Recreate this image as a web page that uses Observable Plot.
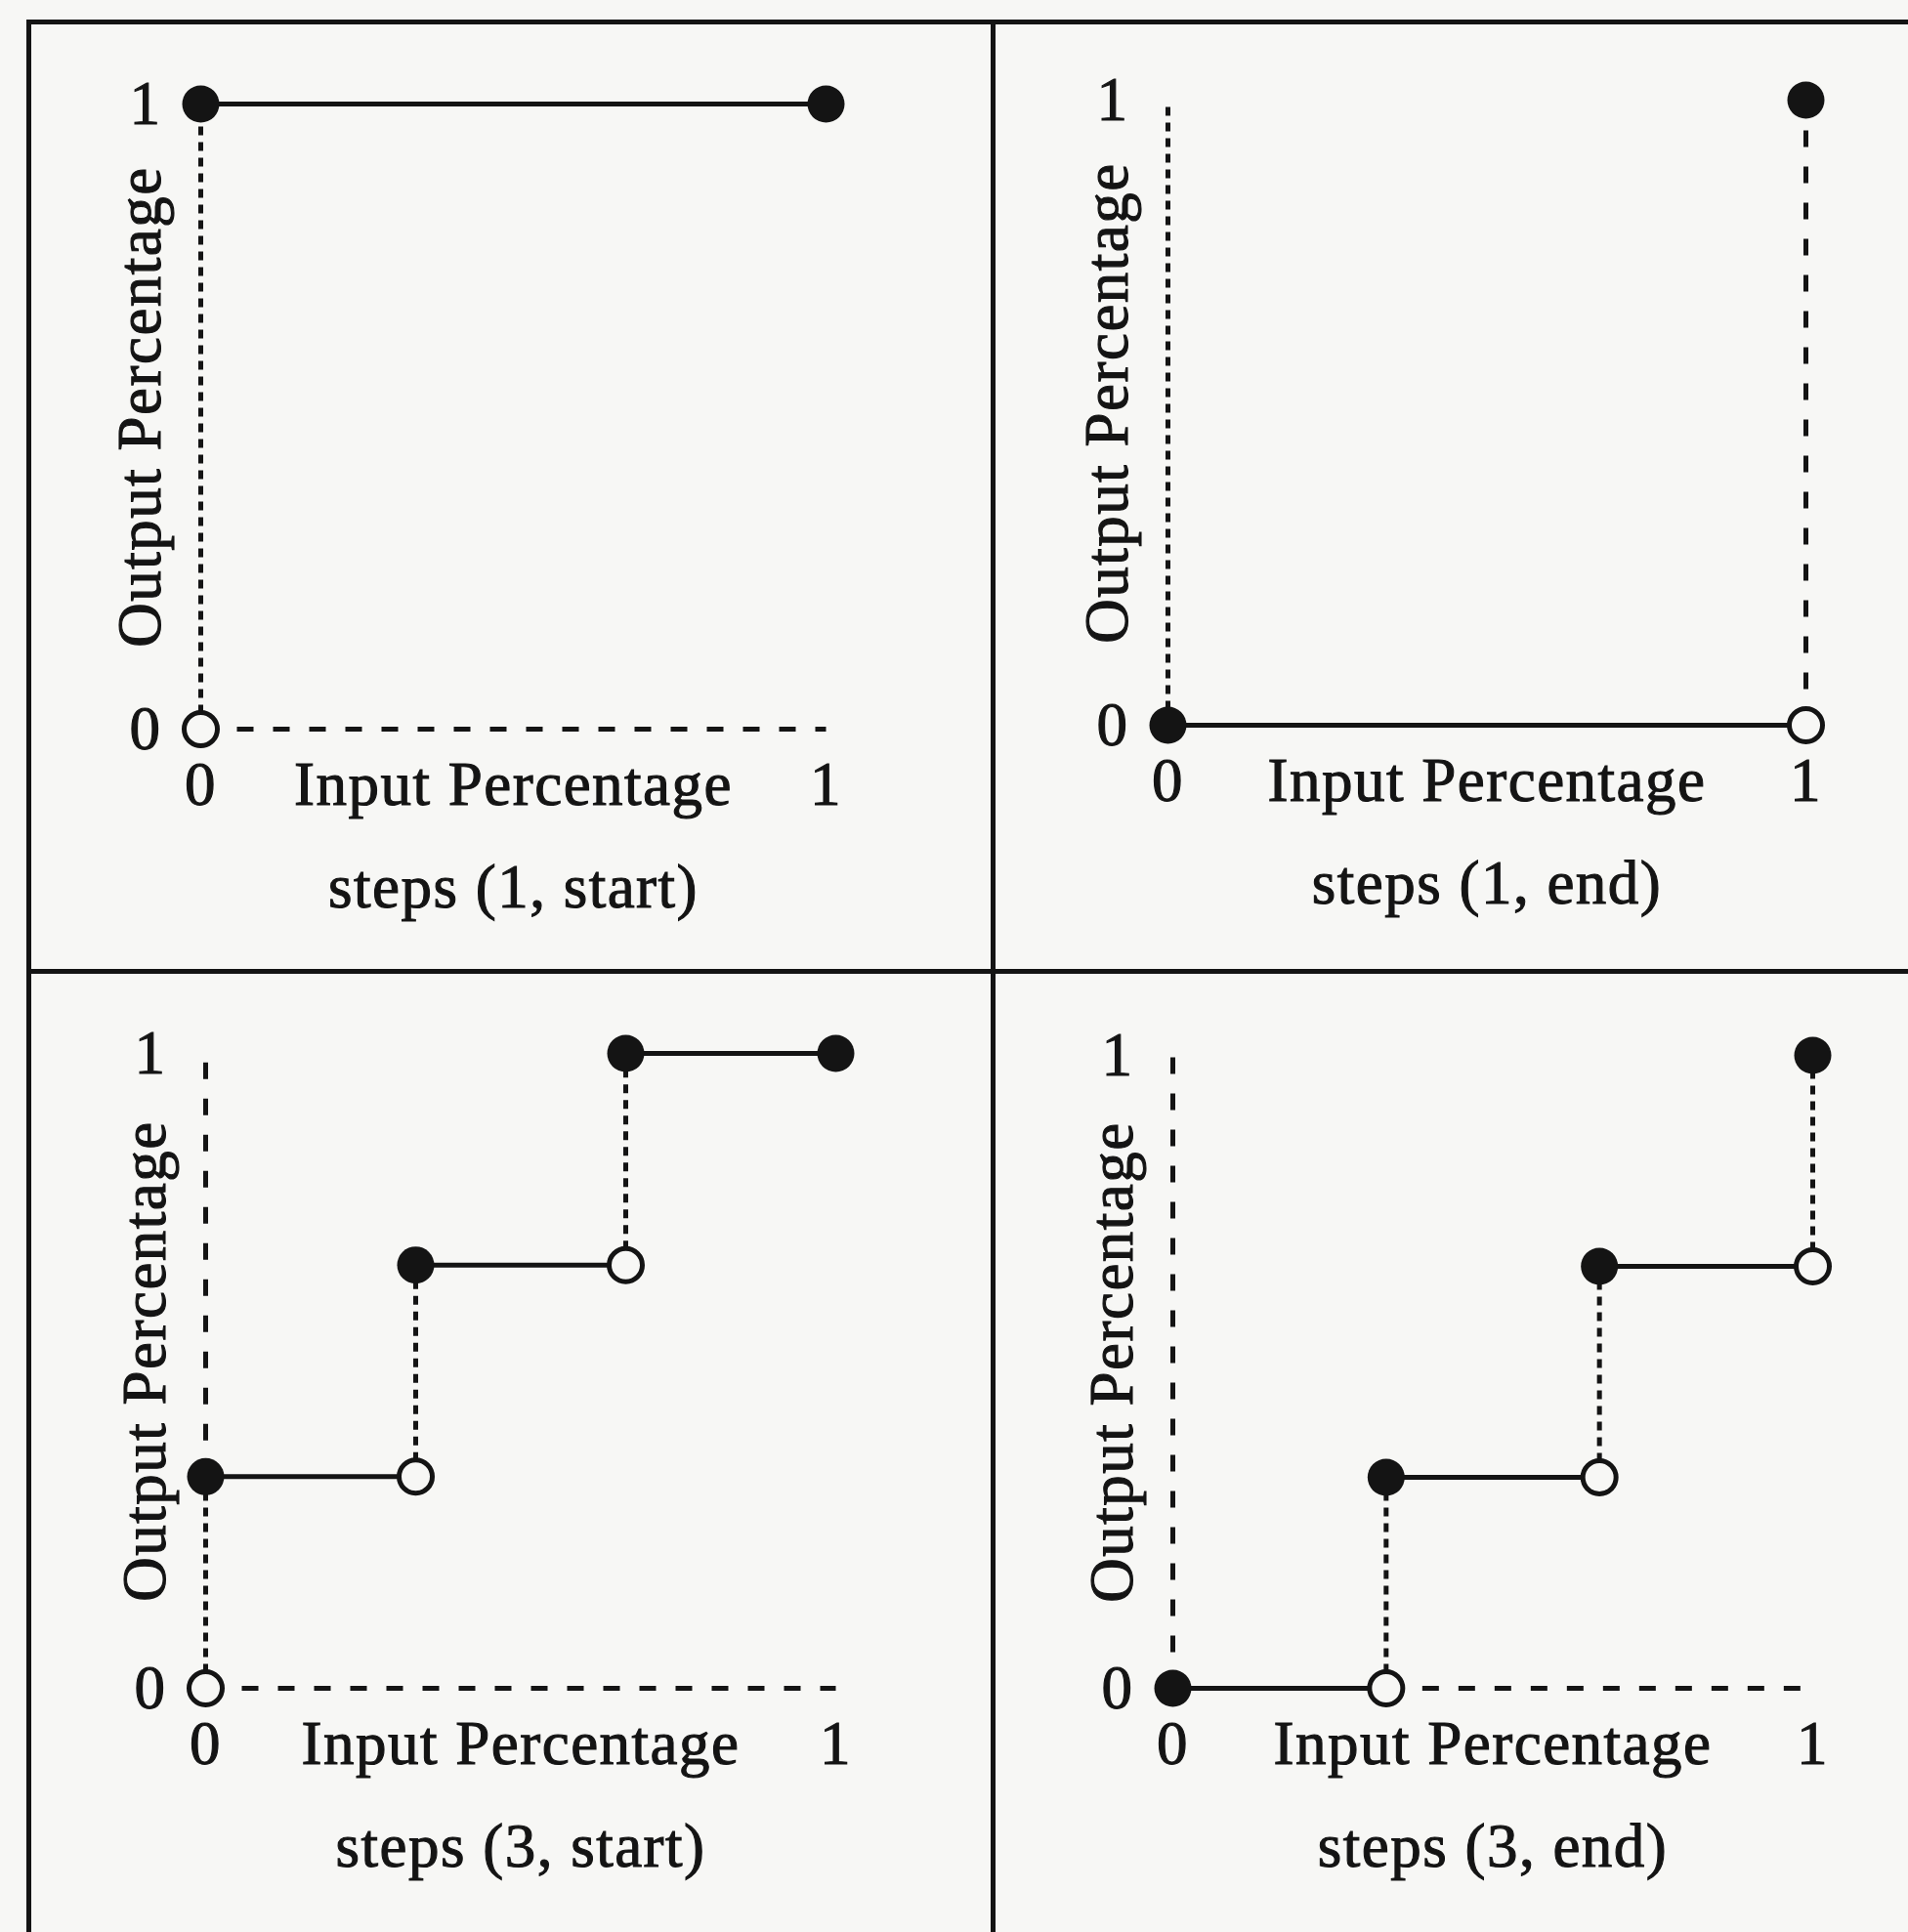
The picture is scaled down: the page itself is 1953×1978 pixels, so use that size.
<!DOCTYPE html>
<html>
<head>
<meta charset="utf-8">
<script src="https://cdn.jsdelivr.net/npm/d3@7"></script>
<script src="https://cdn.jsdelivr.net/npm/@observablehq/plot@0.6"></script>
<style>
  html, body { margin: 0; padding: 0; }
  body { width: 1953px; height: 1978px; position: relative; overflow: hidden; background: #f7f7f5; }
  .rule { position: absolute; background: #141414; }
  .panel { position: absolute; }
  .panel svg { max-width: none; display: block; }
  .panel svg text { stroke: #141414; stroke-width: 1.1px; }
</style>
</head>
<body>
<script>
// ---- data ----
const inputTicks = [0, 1];
const outputTicks = [0, 1];
const inputLabel = "Input Percentage";
const outputLabel = "Output Percentage";
const captions = ["steps (1, start)", "steps (1, end)", "steps (3, start)", "steps (3, end)"];

// segments as [x1, y1, x2, y2] in data units; points as [x, y]
// steps (1, start)
const s1StartSolid = [[0, 1, 1, 1]];
const s1StartConnect = [[0, 0, 0, 1]];
const s1StartGuide = [[0, 0, 1, 0]];
const s1StartFilled = [[0, 1], [1, 1]];
const s1StartOpen = [[0, 0]];
// steps (1, end)
const s1EndSolid = [[0, 0, 1, 0]];
const s1EndConnect = [[0, 0, 0, 1]];
const s1EndGuide = [[1, 0, 1, 1]];
const s1EndFilled = [[0, 0], [1, 1]];
const s1EndOpen = [[1, 0]];
// steps (3, start)
const s3StartSolid = [[0, 1/3, 1/3, 1/3], [1/3, 2/3, 2/3, 2/3], [2/3, 1, 1, 1]];
const s3StartConnect = [[0, 0, 0, 1/3], [1/3, 1/3, 1/3, 2/3], [2/3, 2/3, 2/3, 1]];
const s3StartGuide = [[0, 1/3, 0, 1], [0, 0, 1, 0]];
const s3StartFilled = [[0, 1/3], [1/3, 2/3], [2/3, 1], [1, 1]];
const s3StartOpen = [[0, 0], [1/3, 1/3], [2/3, 2/3]];
// steps (3, end)
const s3EndSolid = [[0, 0, 1/3, 0], [1/3, 1/3, 2/3, 1/3], [2/3, 2/3, 1, 2/3]];
const s3EndConnect = [[1/3, 0, 1/3, 1/3], [2/3, 1/3, 2/3, 2/3], [1, 2/3, 1, 1]];
const s3EndGuide = [[0, 0, 0, 1], [1/3, 0, 1, 0]];
const s3EndFilled = [[0, 0], [1/3, 1/3], [2/3, 2/3], [1, 1]];
const s3EndOpen = [[1/3, 0], [2/3, 1/3], [1, 2/3]];

// ---- layout / style ----
const ink = "#141414";
const paper = "#f7f7f5";
const FS = 63;
const LW = 5;
const ML = 200, MR = 60, MT = 60, MB = 215;
const frames = [
  {x0: 205, x1: 845, y1: 106, y0: 746},
  {x0: 1195, x1: 1848, y1: 102, y0: 742},
  {x0: 210, x1: 855, y1: 1078, y0: 1728},
  {x0: 1200, x1: 1855, y1: 1080, y0: 1728}
];
const panelData = [
  [s1StartSolid, s1StartConnect, s1StartGuide, s1StartFilled, s1StartOpen],
  [s1EndSolid, s1EndConnect, s1EndGuide, s1EndFilled, s1EndOpen],
  [s3StartSolid, s3StartConnect, s3StartGuide, s3StartFilled, s3StartOpen],
  [s3EndSolid, s3EndConnect, s3EndGuide, s3EndFilled, s3EndOpen]
];

// grid rules
function rule(l, t, w, h) {
  const d = document.createElement("div");
  d.className = "rule";
  Object.assign(d.style, {left: l + "px", top: t + "px", width: w + "px", height: h + "px"});
  document.body.appendChild(d);
}
rule(27, 20, 1926, 5);
rule(27, 20, 5, 1958);
rule(1014, 20, 5, 1958);
rule(27, 992, 1926, 5);

const seg = {x1: d => d[0], y1: d => d[1], x2: d => d[2], y2: d => d[3]};

frames.forEach((f, i) => {
  const [solid, connect, guide, filled, open] = panelData[i];
  const pw = f.x1 - f.x0, ph = f.y0 - f.y1;
  const chart = Plot.plot({
    width: ML + pw + MR,
    height: MT + ph + MB,
    marginLeft: ML, marginRight: MR, marginTop: MT, marginBottom: MB,
    x: {domain: [0, 1]},
    y: {domain: [0, 1]},
    style: {background: "transparent", fontFamily: "'Liberation Serif', 'DejaVu Serif', serif", fontSize: FS + "px", letterSpacing: "1.5px", color: ink, overflow: "visible"},
    marks: [
      Plot.axisX({ticks: inputTicks, tickSize: 0, tickPadding: 33, fontSize: FS, label: null, color: ink, tickFormat: d => String(d)}),
      Plot.axisY({ticks: outputTicks, tickSize: 0, tickPadding: 40, fontSize: FS, label: null, color: ink, tickFormat: d => String(d)}),
      Plot.link(guide, {...seg, stroke: ink, strokeWidth: LW, strokeDasharray: "17,20"}),
      Plot.link(connect, {...seg, stroke: ink, strokeWidth: LW, strokeDasharray: "9,7"}),
      Plot.link(solid, {...seg, stroke: ink, strokeWidth: LW}),
      Plot.dot(open, {x: d => d[0], y: d => d[1], r: 17, fill: paper, stroke: ink, strokeWidth: LW}),
      Plot.dot(filled, {x: d => d[0], y: d => d[1], r: 19, fill: ink, stroke: "none"}),
      Plot.text([inputLabel], {frameAnchor: "bottom", dy: 77, lineAnchor: "bottom", fontSize: FS, fill: ink}),
      Plot.text([outputLabel], {frameAnchor: "left", textAnchor: "middle", rotate: -90, dx: -42, dy: -10, lineAnchor: "bottom", fontSize: FS, fill: ink}),
      Plot.text([captions[i]], {frameAnchor: "bottom", dy: 182, lineAnchor: "bottom", fontSize: FS, fill: ink})
    ]
  });
  const div = document.createElement("div");
  div.className = "panel";
  Object.assign(div.style, {left: (f.x0 - ML) + "px", top: (f.y1 - MT) + "px", width: (ML + pw + MR) + "px"});
  div.appendChild(chart);
  document.body.appendChild(div);
});
</script>
</body>
</html>
